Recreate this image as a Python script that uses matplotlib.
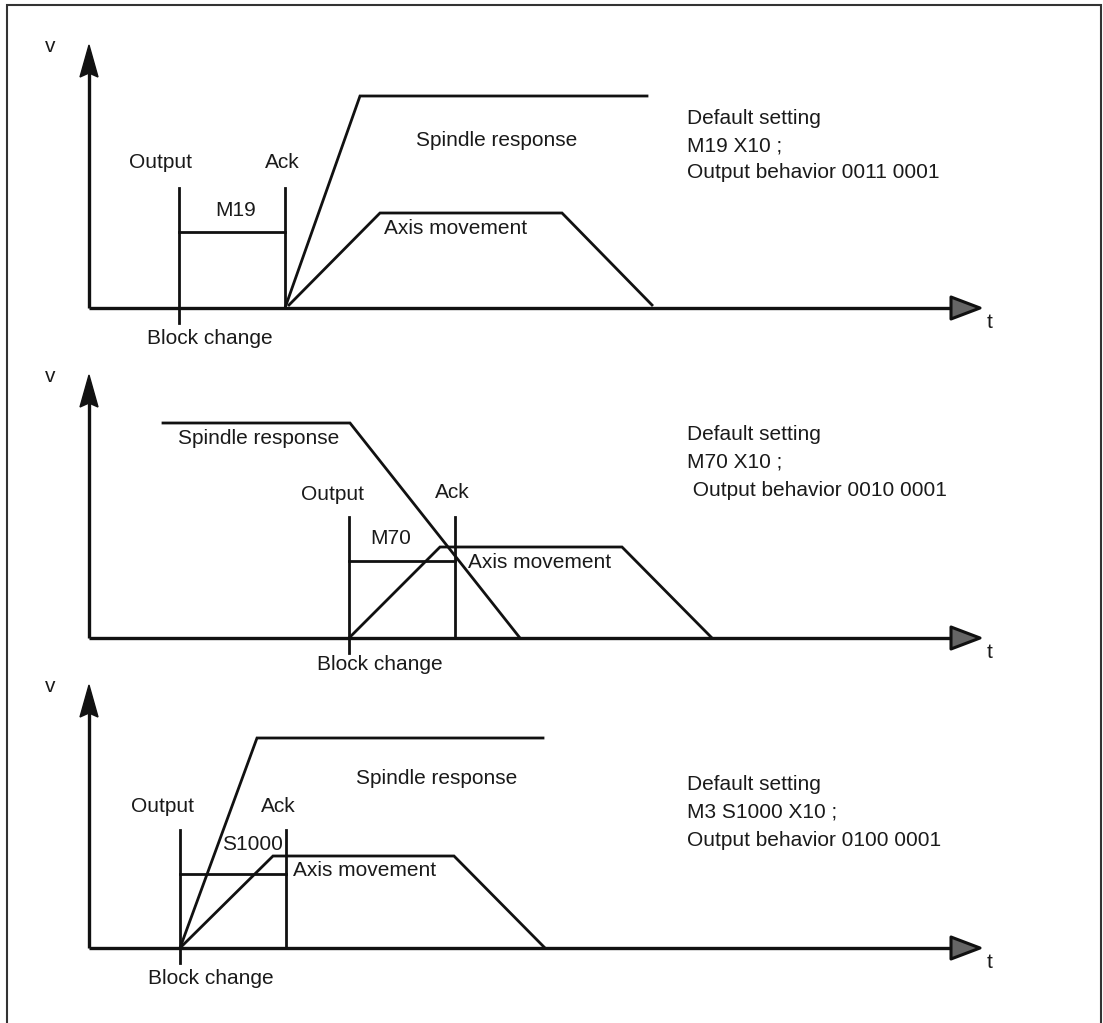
import numpy as np
import matplotlib.pyplot as plt
from matplotlib.patches import Polygon

plt.rcParams['font.family'] = ['Liberation Sans', 'DejaVu Sans']

# ---------------- data (t / v in drawing units, relative to each panel's origin)
commands = ["M19", "M70", "S1000"]
settings = [
    ["Default setting", "M19 X10 ;", "Output behavior 0011 0001"],
    ["Default setting", "M70 X10 ;", " Output behavior 0010 0001"],
    ["Default setting", "M3 S1000 X10 ;", "Output behavior 0100 0001"],
]
output_t = [90, 260, 91]
ack_t = [196, 366, 197]
bar_v = [76, 77, 74]
marker_v = [120, 121, 118]
spindle_t = [[196, 271, 558], [74, 261, 431], [91, 168, 454]]
spindle_v = [[0, 212, 212], [215, 215, 0], [0, 210, 210]]
axis_t = [[200, 291, 473, 563], [260, 351, 533, 623], [91, 184, 365, 456]]
axis_v = [[3, 95, 95, 3], [0, 91, 91, 0], [0, 92, 92, 0]]

# ---------------- layout
W, H = 1103, 1023
x0 = 89
base_y = [308, 638, 948]
t_end = 951
txt = '#1a1a1a'
fs = 15

fig = plt.figure(figsize=(W / 100, H / 100), dpi=100)
ax = fig.add_axes([0, 0, 1, 1])
ax.set_xlim(0, W)
ax.set_ylim(H, 0)
ax.axis('off')

# frame
ax.plot([7, 7, 1101, 1101], [H, 5, 5, H], color='#333333', lw=1.5, solid_joinstyle='miter')

# label positions per panel: (Output, Ack, cmd, Spindle, Axis, Block change)
lab = [
    dict(out=(161, 162), ack=(282, 162), cmd=(236, 210), sp=(416, 140, 'left'),
         am=(384, 228), bc=(210, 338)),
    dict(out=(332, 494), ack=(452, 492), cmd=(391, 538), sp=(178, 439, 'left'),
         am=(468, 562), bc=(380, 665)),
    dict(out=(163, 806), ack=(278, 807), cmd=(252, 845), sp=(356, 779, 'left'),
         am=(293, 871), bc=(211, 979)),
]

for i in range(3):
    y0 = base_y[i]
    X = lambda t: x0 + np.asarray(t)
    Y = lambda v: y0 - np.asarray(v)

    # axes
    tip = y0 - 263
    ax.plot([x0, x0], [y0, tip + 28], color='#111111', lw=2.4, solid_capstyle='butt')
    ax.plot([x0, t_end], [y0, y0], color='#111111', lw=2.4, solid_capstyle='butt')
    ax.add_patch(Polygon([(x0, tip), (x0 + 9, tip + 32), (x0, tip + 28), (x0 - 9, tip + 32)],
                         closed=True, facecolor='#111111', edgecolor='#111111', lw=1))
    ax.add_patch(Polygon([(t_end, y0 - 11), (t_end + 29, y0), (t_end, y0 + 11)],
                         closed=True, facecolor='#666666', edgecolor='#111111', lw=2.2,
                         joinstyle='round'))
    ax.text(50, tip + 2, "v", fontsize=fs, color=txt, ha='center', va='center')
    ax.text(990, y0 + 14, "t", fontsize=fs, color=txt, ha='center', va='center')

    # output / ack markers
    ax.plot(X([output_t[i]] * 2), [y0 + 15, y0 - marker_v[i]], color='#111111', lw=2)
    ax.plot(X([ack_t[i]] * 2), [y0, y0 - marker_v[i]], color='#111111', lw=2)
    ax.plot(X([output_t[i], ack_t[i]]), Y([bar_v[i]] * 2), color='#111111', lw=2)

    # profiles
    ax.plot(X(spindle_t[i]), Y(spindle_v[i]), color='#111111', lw=2, solid_joinstyle='miter')
    ax.plot(X(axis_t[i]), Y(axis_v[i]), color='#111111', lw=2, solid_joinstyle='miter')

    L = lab[i]
    ax.text(*L['out'], "Output", fontsize=fs, color=txt, ha='center', va='center')
    ax.text(*L['ack'], "Ack", fontsize=fs, color=txt, ha='center', va='center')
    ax.text(*L['cmd'], commands[i], fontsize=fs, color=txt, ha='center', va='center')
    ax.text(L['sp'][0], L['sp'][1], "Spindle response", fontsize=fs, color=txt,
            ha=L['sp'][2], va='center')
    ax.text(*L['am'], "Axis movement", fontsize=fs, color=txt, ha='left', va='center')
    ax.text(*L['bc'], "Block change", fontsize=fs, color=txt, ha='center', va='center')

    # setting text on the right
    top = [118, 435, 785][i]
    for k, line in enumerate(settings[i]):
        ax.text(687, top + k * 27.5, line, fontsize=fs, color=txt, ha='left', va='center')

fig.savefig("out.png", dpi=100)
